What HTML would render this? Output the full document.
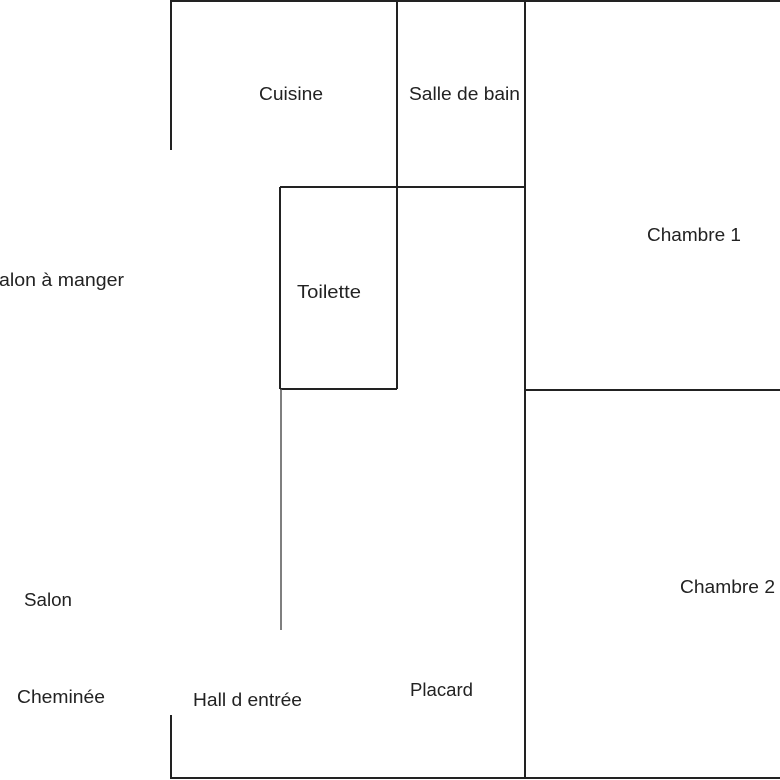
<!DOCTYPE html>
<html><head><meta charset="utf-8"><style>
html,body{margin:0;padding:0;background:#fff;}
svg{display:block;}
text{font-family:"Liberation Sans",sans-serif;font-size:18px;fill:#222;}
</style></head><body>
<svg width="780" height="780" viewBox="0 0 780 780" xmlns="http://www.w3.org/2000/svg">
<g stroke="#222" stroke-width="2" fill="none">
<line x1="171" y1="1" x2="780" y2="1"/>
<line x1="171" y1="778" x2="780" y2="778"/>
<line x1="171" y1="0" x2="171" y2="150"/>
<line x1="171" y1="715" x2="171" y2="779"/>
<line x1="397" y1="0" x2="397" y2="389"/>
<line x1="525" y1="0" x2="525" y2="779"/>
<line x1="280" y1="187" x2="525" y2="187"/>
<line x1="280" y1="187" x2="280" y2="389"/>
<line x1="280" y1="389" x2="397" y2="389"/>
<line x1="525" y1="390" x2="780" y2="390"/>
<line x1="281" y1="389" x2="281" y2="630" stroke="#555" stroke-width="1.5"/>
</g>
<text x="259" y="100" textLength="64" lengthAdjust="spacingAndGlyphs">Cuisine</text>
<text x="409" y="100" textLength="111" lengthAdjust="spacingAndGlyphs">Salle de bain</text>
<text x="647" y="241" textLength="94" lengthAdjust="spacingAndGlyphs">Chambre 1</text>
<text x="-14" y="286" textLength="138" lengthAdjust="spacingAndGlyphs">Salon à manger</text>
<text x="297" y="298" textLength="64" lengthAdjust="spacingAndGlyphs">Toilette</text>
<text x="24" y="606" textLength="48" lengthAdjust="spacingAndGlyphs">Salon</text>
<text x="17" y="703" textLength="88" lengthAdjust="spacingAndGlyphs">Cheminée</text>
<text x="193" y="706" textLength="109" lengthAdjust="spacingAndGlyphs">Hall d entrée</text>
<text x="410" y="696" textLength="63" lengthAdjust="spacingAndGlyphs">Placard</text>
<text x="680" y="593" textLength="95" lengthAdjust="spacingAndGlyphs">Chambre 2</text>
</svg>
</body></html>
